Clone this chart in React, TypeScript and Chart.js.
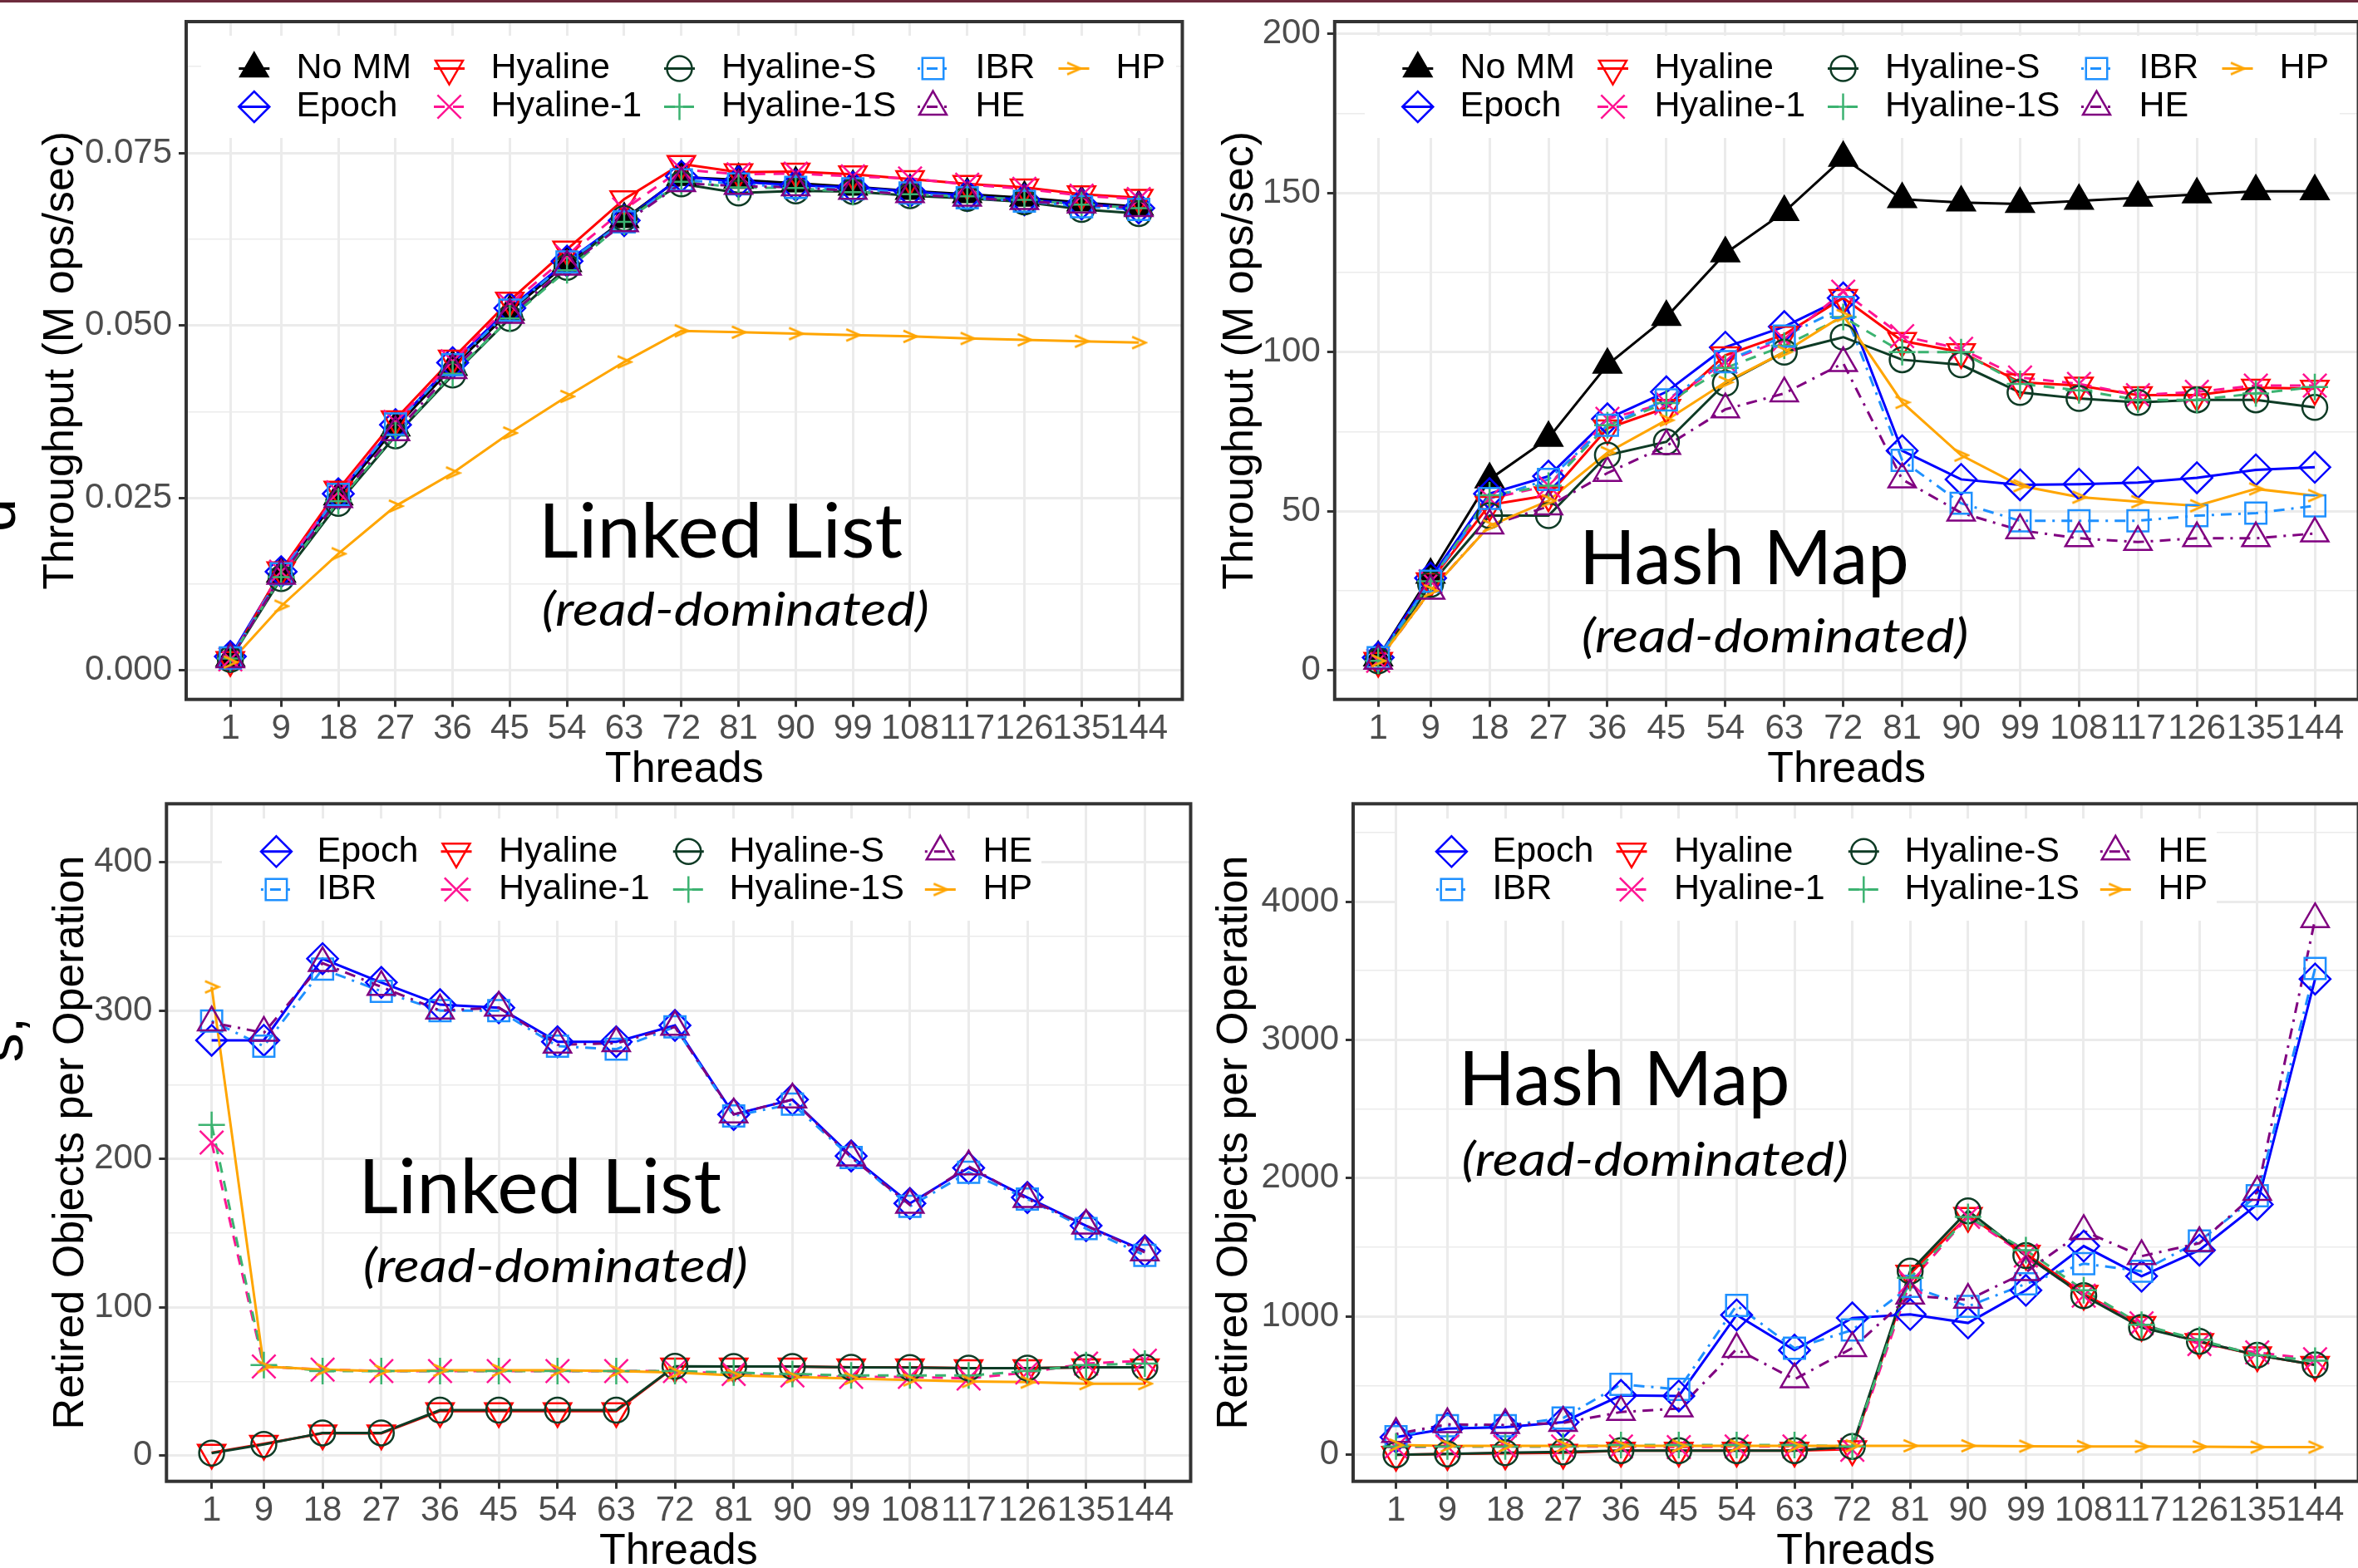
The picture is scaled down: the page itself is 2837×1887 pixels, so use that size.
import React, { useEffect, useRef } from "react";
import { Chart, registerables } from "chart.js";

Chart.register(...registerables);

// ---------------- data ----------------
const THREADS = [1, 9, 18, 27, 36, 45, 54, 63, 72, 81, 90, 99, 108, 117, 126, 135, 144];

// Linked list throughput (M ops/sec)
const LL_TPUT_NOMM = [0.0018, 0.014, 0.0252, 0.0352, 0.044, 0.052, 0.059, 0.0654, 0.0715, 0.0711, 0.0706, 0.0701, 0.0695, 0.069, 0.0685, 0.0678, 0.0672];
const LL_TPUT_EPOCH = [0.002, 0.0143, 0.0256, 0.0356, 0.0446, 0.0525, 0.0593, 0.0652, 0.0716, 0.0708, 0.0703, 0.07, 0.0694, 0.0688, 0.0682, 0.0676, 0.067];
const LL_TPUT_HYALINE = [0.0015, 0.0145, 0.0262, 0.0364, 0.0452, 0.0536, 0.061, 0.0683, 0.0734, 0.0722, 0.0723, 0.0719, 0.0712, 0.0705, 0.07, 0.069, 0.0685];
const LL_TPUT_HYALINE1 = [0.0016, 0.0143, 0.0258, 0.036, 0.0448, 0.053, 0.06, 0.0668, 0.0726, 0.0719, 0.072, 0.0716, 0.0713, 0.0704, 0.0698, 0.0688, 0.0683];
const LL_TPUT_HYALINES = [0.0016, 0.0133, 0.0242, 0.034, 0.0428, 0.051, 0.0584, 0.0655, 0.0705, 0.0692, 0.0695, 0.0694, 0.0688, 0.0684, 0.0679, 0.0668, 0.0662];
const LL_TPUT_HYALINE1S = [0.0017, 0.0135, 0.0245, 0.0341, 0.043, 0.051, 0.058, 0.065, 0.0708, 0.07, 0.0699, 0.0693, 0.069, 0.0687, 0.0682, 0.0675, 0.067];
const LL_TPUT_IBR = [0.0018, 0.014, 0.0255, 0.0357, 0.0443, 0.0522, 0.0592, 0.065, 0.0711, 0.0705, 0.07, 0.0698, 0.0692, 0.0685, 0.068, 0.0672, 0.0668];
const LL_TPUT_HE = [0.0016, 0.0137, 0.0248, 0.0345, 0.0435, 0.0515, 0.0585, 0.0648, 0.0706, 0.0702, 0.07, 0.0695, 0.069, 0.0685, 0.068, 0.0675, 0.067];
const LL_TPUT_HP = [0.0012, 0.0093, 0.0169, 0.0238, 0.0286, 0.0344, 0.0397, 0.0447, 0.0492, 0.049, 0.0488, 0.0486, 0.0484, 0.0481, 0.0479, 0.0477, 0.0475];

// Hash map throughput (M ops/sec)
const HM_TPUT_NOMM = [4, 30, 60, 73, 96, 111, 131, 144, 161, 148, 147, 146.5, 147.5, 148.5, 149.5, 150.5, 150.5];
const HM_TPUT_EPOCH = [4, 29, 55.5, 61, 79, 87.5, 101.5, 108, 117, 69, 60, 58.3, 58.5, 59, 60.5, 63, 63.8];
const HM_TPUT_HYALINE = [3, 28, 52, 55, 76, 82.5, 99, 105.5, 117, 103.5, 100, 90.5, 89.5, 86.5, 86.5, 88.8, 88.5];
const HM_TPUT_HYALINE1 = [3, 28, 54, 58, 79, 84, 97, 104, 119, 105, 101, 92, 90, 86.5, 87.5, 89.5, 89.5];
const HM_TPUT_HYALINES = [3, 27, 48.6, 48.6, 67.6, 71.8, 90.2, 100, 104.7, 97.6, 96, 87.3, 85.4, 84.2, 85, 85, 82.6];
const HM_TPUT_HYALINE1S = [3, 28, 55, 58, 77, 84, 95, 102, 111, 100, 100, 90, 88, 85, 85, 87, 89];
const HM_TPUT_IBR = [4, 28, 54, 60, 77, 85, 97, 105, 114, 66, 52.5, 47, 47, 47, 48.6, 49.4, 51.7];
const HM_TPUT_HE = [3, 25, 45.5, 51.5, 62, 70.5, 82, 87, 96.5, 60, 49.5, 44, 41.5, 40.3, 41.5, 41.5, 43];
const HM_TPUT_HP = [3, 25, 45.4, 53.3, 68.4, 78.6, 90.5, 100, 111.5, 84.2, 67.6, 58, 54.4, 53, 51.7, 57, 54.9];

// Linked list retired objects per operation
const LL_RET_EPOCH = [280, 280, 335, 319, 304, 302, 279, 279, 290, 230, 240, 202, 170, 194, 174, 155, 138];
const LL_RET_IBR = [293, 276, 328, 313, 300, 300, 276, 274, 289, 229, 237, 201, 168, 191, 173, 153, 135];
const LL_RET_HYALINE = [2, 8, 15, 15, 30, 30, 30, 30, 60, 60, 60, 59.5, 59.5, 59, 59, 59.5, 59.5];
const LL_RET_HYALINE1 = [211, 60, 58, 57, 57, 57, 57, 57, 57, 55, 54, 53, 53, 52, 56, 62, 64];
const LL_RET_HYALINES = [1.7, 7.5, 15.3, 15.3, 30.6, 30.6, 30.6, 30.6, 60.2, 60, 60, 59.5, 59.3, 59, 59, 59.5, 59.5];
const LL_RET_HYALINE1S = [223, 61, 57, 57, 57, 57, 57, 57, 57, 56, 55, 54, 54, 54, 57, 61, 62];
const LL_RET_HE = [292, 285, 332, 316, 300, 302, 277, 278, 289, 230, 240, 201, 169, 195, 173, 155, 137];
const LL_RET_HP = [316, 60, 58, 57, 57.5, 57.5, 57.5, 57, 56, 54, 53, 52, 51, 50, 49.5, 48.5, 48.5];

// Hash map retired objects per operation
const HM_RET_EPOCH = [127, 189, 200, 236, 429, 425, 1011, 756, 989, 1015, 953, 1189, 1509, 1291, 1480, 1810, 3440];
const HM_RET_IBR = [130, 210, 210, 265, 509, 473, 1080, 770, 902, 1218, 1073, 1236, 1382, 1327, 1545, 1873, 3516];
const HM_RET_HYALINE = [0, 5, 10, 15, 30, 30, 30, 30, 40, 1309, 1727, 1454, 1164, 938, 815, 720, 650];
const HM_RET_HYALINE1 = [55, 60, 60, 60, 60, 55, 60, 60, 36, 1250, 1720, 1440, 1150, 950, 800, 740, 690];
const HM_RET_HYALINES = [0, 5, 15, 20, 30, 30, 30, 30, 60, 1327, 1764, 1440, 1150, 920, 820, 720, 650];
const HM_RET_HYALINE1S = [60, 60, 60, 60, 70, 70, 70, 70, 60, 1280, 1720, 1480, 1190, 940, 830, 720, 680];
const HM_RET_HE = [150, 220, 215, 230, 309, 334, 764, 545, 771, 1150, 1120, 1320, 1618, 1436, 1530, 1900, 3873];
const HM_RET_HP = [70, 65, 65, 65, 65, 65, 65, 65, 65, 65, 65, 62, 60, 60, 58, 55, 55];

// Y tick values
const Y_TICKS_LL_TPUT = [0, 0.0125, 0.025, 0.0375, 0.05, 0.0625, 0.075, 0.0875];
const Y_MAJOR_LL_TPUT = [0, 0.025, 0.05, 0.075];
const Y_TICKS_HM_TPUT = [0, 25, 50, 75, 100, 125, 150, 175, 200];
const Y_MAJOR_HM_TPUT = [0, 50, 100, 150, 200];
const Y_TICKS_LL_RET = [0, 50, 100, 150, 200, 250, 300, 350, 400];
const Y_MAJOR_LL_RET = [0, 100, 200, 300, 400];
const Y_TICKS_HM_RET = [0, 500, 1000, 1500, 2000, 2500, 3000, 3500, 4000, 4500];
const Y_MAJOR_HM_RET = [0, 1000, 2000, 3000, 4000];

// ---------------- styles ----------------
type Shape = "triUpFill" | "triUp" | "triDown" | "diamond" | "circle" | "square" | "x" | "plus" | "gt";
const STYLE: Record<string, { color: string; dash: number[]; shape: Shape }> = {
  "No MM": { color: "#000000", dash: [], shape: "triUpFill" },
  Epoch: { color: "#0000FF", dash: [], shape: "diamond" },
  Hyaline: { color: "#FF0000", dash: [], shape: "triDown" },
  "Hyaline-1": { color: "#FF1493", dash: [13, 10], shape: "x" },
  "Hyaline-S": { color: "#0E3B25", dash: [], shape: "circle" },
  "Hyaline-1S": { color: "#3CB371", dash: [13, 10], shape: "plus" },
  IBR: { color: "#1E90FF", dash: [3, 8, 13, 8], shape: "square" },
  HE: { color: "#800080", dash: [3, 8, 13, 8], shape: "triUp" },
  HP: { color: "#FFA500", dash: [], shape: "gt" },
};
const R_TRI = 19, R_DIAMOND = 18.5, R_CIRCLE = 15, R_SQUARE = 18, R_X = 20, R_PLUS = 16;
const PT_BW = 2.5;
const LINE_W = 3;
const SANS = '"Liberation Sans", Arial, sans-serif';

let gtCache: HTMLCanvasElement | null = null;
function gtGlyph(): HTMLCanvasElement {
  if (gtCache) return gtCache;
  const c = document.createElement("canvas");
  c.width = 22;
  c.height = 18;
  const g = c.getContext("2d")!;
  g.strokeStyle = STYLE.HP.color;
  g.lineWidth = 2.8;
  g.beginPath();
  g.moveTo(3, 2);
  g.lineTo(19, 9);
  g.lineTo(3, 16);
  g.stroke();
  gtCache = c;
  return c;
}

function pointCfg(shape: Shape, color: string): any {
  const none = "rgba(0,0,0,0)";
  switch (shape) {
    case "triUpFill": return { pointStyle: "triangle", pointRadius: R_TRI, pointBackgroundColor: color, pointRotation: 0 };
    case "triUp": return { pointStyle: "triangle", pointRadius: R_TRI, pointBackgroundColor: none, pointRotation: 0 };
    case "triDown": return { pointStyle: "triangle", pointRadius: R_TRI, pointBackgroundColor: none, pointRotation: 180 };
    case "diamond": return { pointStyle: "rectRot", pointRadius: R_DIAMOND, pointBackgroundColor: none };
    case "circle": return { pointStyle: "circle", pointRadius: R_CIRCLE, pointBackgroundColor: none };
    case "square": return { pointStyle: "rect", pointRadius: R_SQUARE, pointBackgroundColor: none };
    case "x": return { pointStyle: "crossRot", pointRadius: R_X, pointBackgroundColor: none };
    case "plus": return { pointStyle: "cross", pointRadius: R_PLUS, pointBackgroundColor: none };
    case "gt": return { pointStyle: gtGlyph(), pointRadius: 11, pointBackgroundColor: none };
  }
}

function drawMarker(ctx: CanvasRenderingContext2D, shape: Shape, color: string, x: number, y: number) {
  ctx.save();
  ctx.setLineDash([]);
  ctx.lineWidth = PT_BW;
  ctx.strokeStyle = color;
  ctx.fillStyle = color;
  ctx.beginPath();
  const tri = (r: number, rot: number) => {
    let a = rot;
    ctx.moveTo(x + Math.sin(a) * r, y - Math.cos(a) * r);
    a += (2 * Math.PI) / 3;
    ctx.lineTo(x + Math.sin(a) * r, y - Math.cos(a) * r);
    a += (2 * Math.PI) / 3;
    ctx.lineTo(x + Math.sin(a) * r, y - Math.cos(a) * r);
    ctx.closePath();
  };
  switch (shape) {
    case "triUpFill": tri(R_TRI, 0); ctx.fill(); ctx.stroke(); break;
    case "triUp": tri(R_TRI, 0); ctx.stroke(); break;
    case "triDown": tri(R_TRI, Math.PI); ctx.stroke(); break;
    case "diamond": {
      const r = R_DIAMOND;
      ctx.moveTo(x - r, y); ctx.lineTo(x, y - r); ctx.lineTo(x + r, y); ctx.lineTo(x, y + r); ctx.closePath(); ctx.stroke();
      break;
    }
    case "circle": ctx.arc(x, y, R_CIRCLE, 0, Math.PI * 2); ctx.stroke(); break;
    case "square": {
      const s = R_SQUARE * Math.SQRT1_2;
      ctx.rect(x - s, y - s, 2 * s, 2 * s); ctx.stroke();
      break;
    }
    case "x": {
      const o = R_X * Math.SQRT1_2;
      ctx.moveTo(x - o, y - o); ctx.lineTo(x + o, y + o); ctx.moveTo(x + o, y - o); ctx.lineTo(x - o, y + o); ctx.stroke();
      break;
    }
    case "plus": {
      const r = R_PLUS;
      ctx.moveTo(x - r, y); ctx.lineTo(x + r, y); ctx.moveTo(x, y - r); ctx.lineTo(x, y + r); ctx.stroke();
      break;
    }
    case "gt": {
      const g = gtGlyph();
      ctx.drawImage(g, x - g.width / 2, y - g.height / 2);
      break;
    }
  }
  ctx.restore();
}

function drawScaledText(ctx: CanvasRenderingContext2D, text: string, font: string, left: number, right: number, baseline: number) {
  ctx.save();
  ctx.font = font;
  ctx.fillStyle = "#000000";
  ctx.textAlign = "left";
  ctx.textBaseline = "alphabetic";
  const m = ctx.measureText(text);
  const w = m.actualBoundingBoxLeft + m.actualBoundingBoxRight;
  const sx = (right - left) / w;
  ctx.translate(left, baseline);
  ctx.scale(sx, 1);
  ctx.fillText(text, m.actualBoundingBoxLeft, 0);
  ctx.restore();
}

// ---------------- panels ----------------
type Panel = {
  left: number; top: number; w: number; h: number;
  padTop: number; padBottom: number; padRight: number; wY: number; hX: number;
  xMin: number; xMax: number; yMin: number; yMax: number;
  yTicks: number[]; yMajor: number[]; fmt: (v: number) => string;
  yTitle: string; yTitlePad: number;
  series: { name: string; values: number[] }[];
  legendCols: string[][]; legendSymX: number[]; legendTextX: number[]; legendRowY: number[];
  legendBox: [number, number, number, number];
  annot: { title: string; sub: string; t: [number, number, number]; s: [number, number, number] };
};

const TOP_COLS = [["No MM", "Epoch"], ["Hyaline", "Hyaline-1"], ["Hyaline-S", "Hyaline-1S"], ["IBR", "HE"], ["HP"]];
const BOT_COLS = [["Epoch", "IBR"], ["Hyaline", "Hyaline-1"], ["Hyaline-S", "Hyaline-1S"], ["HE", "HP"]];
const TOP_SYM_X = [305.8, 540.5, 817.5, 1122.5, 1292];
const TOP_TXT_X = [356.5, 590.5, 868, 1173.5, 1342.5];
const BOT_SYM_X = [332.4, 549, 828.3, 1131.3];
const BOT_TXT_X = [381.5, 600, 877.5, 1182.5];

const PANELS: Panel[] = [
  {
    left: 0, top: -14, w: 1445, h: 975, padTop: 40, padBottom: 8.4, padRight: 9.7, wY: 224, hX: 110.9,
    xMin: -5.95, xMax: 150.86, yMin: -0.004215, yMax: 0.09403,
    yTicks: Y_TICKS_LL_TPUT, yMajor: Y_MAJOR_LL_TPUT, fmt: (v) => v.toFixed(3),
    yTitle: "Throughput (M ops/sec)", yTitlePad: 48,
    series: [
      { name: "No MM", values: LL_TPUT_NOMM },
      { name: "Epoch", values: LL_TPUT_EPOCH },
      { name: "Hyaline", values: LL_TPUT_HYALINE },
      { name: "Hyaline-1", values: LL_TPUT_HYALINE1 },
      { name: "Hyaline-S", values: LL_TPUT_HYALINES },
      { name: "Hyaline-1S", values: LL_TPUT_HYALINE1S },
      { name: "IBR", values: LL_TPUT_IBR },
      { name: "HE", values: LL_TPUT_HE },
      { name: "HP", values: LL_TPUT_HP },
    ],
    legendCols: TOP_COLS, legendSymX: TOP_SYM_X, legendTextX: TOP_TXT_X, legendRowY: [82.5, 128.5],
    legendBox: [242, 43, 1415, 166],
    annot: { title: "Linked List", sub: "(read-dominated)", t: [656, 1086, 670.5], s: [654, 1116, 753] },
  },
  {
    left: 1440, top: -14, w: 1420, h: 975, padTop: 40, padBottom: 8.4, padRight: 10, wY: 165.8, hX: 110.9,
    xMin: -5.646, xMax: 150.66, yMin: -9.14, yMax: 203.84,
    yTicks: Y_TICKS_HM_TPUT, yMajor: Y_MAJOR_HM_TPUT, fmt: (v) => String(v),
    yTitle: "Throughput (M ops/sec)", yTitlePad: 27,
    series: [
      { name: "No MM", values: HM_TPUT_NOMM },
      { name: "Epoch", values: HM_TPUT_EPOCH },
      { name: "Hyaline", values: HM_TPUT_HYALINE },
      { name: "Hyaline-1", values: HM_TPUT_HYALINE1 },
      { name: "Hyaline-S", values: HM_TPUT_HYALINES },
      { name: "Hyaline-1S", values: HM_TPUT_HYALINE1S },
      { name: "IBR", values: HM_TPUT_IBR },
      { name: "HE", values: HM_TPUT_HE },
      { name: "HP", values: HM_TPUT_HP },
    ],
    legendCols: TOP_COLS, legendSymX: TOP_SYM_X.map((v) => v + 1400), legendTextX: TOP_TXT_X.map((v) => v + 1400), legendRowY: [82.5, 128.5],
    legendBox: [1642, 43, 2815, 166],
    annot: { title: "Hash Map", sub: "(read-dominated)", t: [1907.7, 2293.5, 703], s: [1905, 2366.6, 785] },
  },
  {
    left: 0, top: 927, w: 1455, h: 975, padTop: 40.3, padBottom: 8.4, padRight: 7.8, wY: 200.3, hX: 110.9,
    xMin: -5.92, xMax: 151.02, yMin: -17.37, yMax: 439.45,
    yTicks: Y_TICKS_LL_RET, yMajor: Y_MAJOR_LL_RET, fmt: (v) => String(v),
    yTitle: "Retired Objects per Operation", yTitlePad: 60,
    series: [
      { name: "Epoch", values: LL_RET_EPOCH },
      { name: "IBR", values: LL_RET_IBR },
      { name: "Hyaline", values: LL_RET_HYALINE },
      { name: "Hyaline-1", values: LL_RET_HYALINE1 },
      { name: "Hyaline-S", values: LL_RET_HYALINES },
      { name: "Hyaline-1S", values: LL_RET_HYALINE1S },
      { name: "HE", values: LL_RET_HE },
      { name: "HP", values: LL_RET_HP },
    ],
    legendCols: BOT_COLS, legendSymX: BOT_SYM_X, legendTextX: BOT_TXT_X, legendRowY: [1024.8, 1070.5],
    legendBox: [267, 985, 1253, 1108],
    annot: { title: "Linked List", sub: "(read-dominated)", t: [439, 868, 1460], s: [439, 898, 1543] },
  },
  {
    left: 1440, top: 927, w: 1420, h: 975, padTop: 40.3, padBottom: 8.4, padRight: 12, wY: 188, hX: 110.9,
    xMin: -5.67, xMax: 150.74, yMin: -192.3, yMax: 4707.4,
    yTicks: Y_TICKS_HM_RET, yMajor: Y_MAJOR_HM_RET, fmt: (v) => String(v),
    yTitle: "Retired Objects per Operation", yTitlePad: 20,
    series: [
      { name: "Epoch", values: HM_RET_EPOCH },
      { name: "IBR", values: HM_RET_IBR },
      { name: "Hyaline", values: HM_RET_HYALINE },
      { name: "Hyaline-1", values: HM_RET_HYALINE1 },
      { name: "Hyaline-S", values: HM_RET_HYALINES },
      { name: "Hyaline-1S", values: HM_RET_HYALINE1S },
      { name: "HE", values: HM_RET_HE },
      { name: "HP", values: HM_RET_HP },
    ],
    legendCols: BOT_COLS, legendSymX: BOT_SYM_X.map((v) => v + 1414), legendTextX: BOT_TXT_X.map((v) => v + 1414), legendRowY: [1024.8, 1070.5],
    legendBox: [1681, 985, 2667, 1108],
    annot: { title: "Hash Map", sub: "(read-dominated)", t: [1762.5, 2150, 1330], s: [1760.7, 2222, 1415] },
  },
];

function makePlugin(p: Panel) {
  return {
    id: "panelDecor",
    afterDatasetsDraw(chart: any) {
      const ctx = chart.ctx as CanvasRenderingContext2D;
      const a = p.annot;
      drawScaledText(ctx, a.title, "92px Lato", a.t[0] - p.left, a.t[1] - p.left, a.t[2] - p.top);
      drawScaledText(ctx, a.sub, "italic 56px Lato", a.s[0] - p.left, a.s[1] - p.left, a.s[2] - p.top);
    },
    afterDraw(chart: any) {
      const ctx = chart.ctx as CanvasRenderingContext2D;
      const ca = chart.chartArea;
      // panel border
      ctx.save();
      ctx.setLineDash([]);
      ctx.strokeStyle = "#333333";
      ctx.lineWidth = 4;
      ctx.strokeRect(ca.left, ca.top, ca.right - ca.left, ca.bottom - ca.top);
      ctx.restore();
      // legend
      const [bx0, by0, bx1, by1] = p.legendBox;
      ctx.save();
      ctx.fillStyle = "#FFFFFF";
      ctx.fillRect(bx0 - p.left, by0 - p.top, bx1 - bx0, by1 - by0);
      p.legendCols.forEach((col, ci) => {
        col.forEach((name, ri) => {
          const st = STYLE[name];
          const sx = p.legendSymX[ci] - p.left;
          const sy = p.legendRowY[ri] - p.top;
          ctx.save();
          ctx.strokeStyle = st.color;
          ctx.lineWidth = LINE_W;
          ctx.setLineDash(st.dash);
          ctx.beginPath();
          ctx.moveTo(sx - 18.5, sy);
          ctx.lineTo(sx + 18.5, sy);
          ctx.stroke();
          ctx.restore();
          drawMarker(ctx, st.shape, st.color, sx, sy);
          ctx.fillStyle = "#000000";
          ctx.font = `43px ${SANS}`;
          ctx.textAlign = "left";
          ctx.textBaseline = "middle";
          ctx.fillText(name, p.legendTextX[ci] - p.left, sy);
        });
      });
      ctx.restore();
    },
  };
}

const near = (v: number, list: number[]) => list.some((m) => Math.abs(m - v) < 1e-9);

function PanelChart({ p }: { p: Panel }) {
  const ref = useRef<HTMLCanvasElement>(null);
  useEffect(() => {
    const canvas = ref.current!;
    const lineSets = p.series.map((s, i) => {
      const st = STYLE[s.name];
      return {
        label: s.name + " line",
        data: THREADS.map((t, k) => ({ x: t, y: s.values[k] })),
        showLine: true,
        borderColor: st.color,
        borderWidth: LINE_W,
        borderDash: st.dash,
        pointRadius: 0,
        fill: false,
        tension: 0,
        order: 200 - i,
      };
    });
    const pointSets = p.series.map((s, i) => {
      const st = STYLE[s.name];
      return {
        label: s.name,
        data: THREADS.map((t, k) => ({ x: t, y: s.values[k] })),
        showLine: false,
        borderColor: st.color,
        pointBorderColor: st.color,
        pointBorderWidth: PT_BW,
        ...pointCfg(st.shape, st.color),
        order: 100 - i,
      };
    });
    const tickFont = { family: SANS, size: 42, lineHeight: 1 };
    const titleFont = { family: SANS, size: 52, lineHeight: 1 };
    const chart = new Chart(canvas, {
      type: "line",
      data: { datasets: [...lineSets, ...pointSets] as any },
      options: {
        responsive: false,
        animation: false,
        devicePixelRatio: 1,
        events: [],
        layout: { padding: { left: 0, right: p.padRight, top: p.padTop, bottom: p.padBottom } },
        plugins: { legend: { display: false }, tooltip: { enabled: false }, title: { display: false } },
        scales: {
          x: {
            type: "linear",
            position: "bottom",
            min: p.xMin,
            max: p.xMax,
            afterBuildTicks: (s: any) => {
              s.ticks = THREADS.map((v) => ({ value: v }));
            },
            afterFit: (s: any) => {
              s.height = p.hX;
            },
            ticks: {
              autoSkip: false,
              maxRotation: 0,
              minRotation: 0,
              padding: 6,
              color: "#4D4D4D",
              font: tickFont,
              callback: (v: any) => String(v),
            },
            grid: { color: "#EBEBEB", lineWidth: 3, drawTicks: true, tickLength: 9, tickColor: "#333333", tickWidth: 3 },
            border: { display: false },
            title: { display: true, text: "Threads", color: "#000000", font: titleFont, padding: { top: 0, bottom: 0 } },
          },
          y: {
            type: "linear",
            position: "left",
            min: p.yMin,
            max: p.yMax,
            afterBuildTicks: (s: any) => {
              s.ticks = p.yTicks.map((v) => ({ value: v }));
            },
            afterFit: (s: any) => {
              s.width = p.wY;
            },
            ticks: {
              autoSkip: false,
              padding: 8,
              color: "#4D4D4D",
              font: tickFont,
              callback: (v: any) => (near(Number(v), p.yMajor) ? p.fmt(Number(v)) : ""),
            },
            grid: {
              color: "#EBEBEB",
              lineWidth: (c: any) => (c.tick && !near(c.tick.value, p.yMajor) ? 1.6 : 3),
              drawTicks: true,
              tickLength: 9,
              tickWidth: 3,
              tickColor: (c: any) => (c.tick && near(c.tick.value, p.yMajor) ? "#333333" : "rgba(0,0,0,0)"),
            },
            border: { display: false },
            title: { display: true, text: p.yTitle, color: "#000000", font: titleFont, padding: { top: p.yTitlePad, bottom: 0 } },
          },
        },
      } as any,
      plugins: [makePlugin(p)],
    });
    return () => chart.destroy();
  }, [p]);
  return (
    <canvas
      ref={ref}
      width={p.w}
      height={p.h}
      style={{ position: "absolute", left: p.left, top: p.top, width: p.w, height: p.h }}
    />
  );
}

export default function App() {
  return (
    <div
      style={{
        position: "absolute",
        left: 0,
        top: 0,
        width: 2837,
        height: 1887,
        overflow: "hidden",
        background: "#FFFFFF",
      }}
    >
      <div style={{ position: "absolute", left: 0, top: 0, width: 2837, height: 3, background: "#6E2B3D" }} />
      <div
        style={{
          position: "absolute",
          left: -7,
          top: 620,
          transform: "translate(-50%, -50%) rotate(-90deg)",
          font: `72px ${SANS}`,
          lineHeight: 1,
          whiteSpace: "nowrap",
          color: "#000",
        }}
      >
        d
      </div>
      <div
        style={{
          position: "absolute",
          left: 3,
          top: 1251,
          transform: "translate(-50%, -50%) rotate(-90deg)",
          font: `70px ${SANS}`,
          lineHeight: 1,
          whiteSpace: "nowrap",
          color: "#000",
        }}
      >
        s,
      </div>
      {PANELS.map((p, i) => (
        <PanelChart key={i} p={p} />
      ))}
    </div>
  );
}
